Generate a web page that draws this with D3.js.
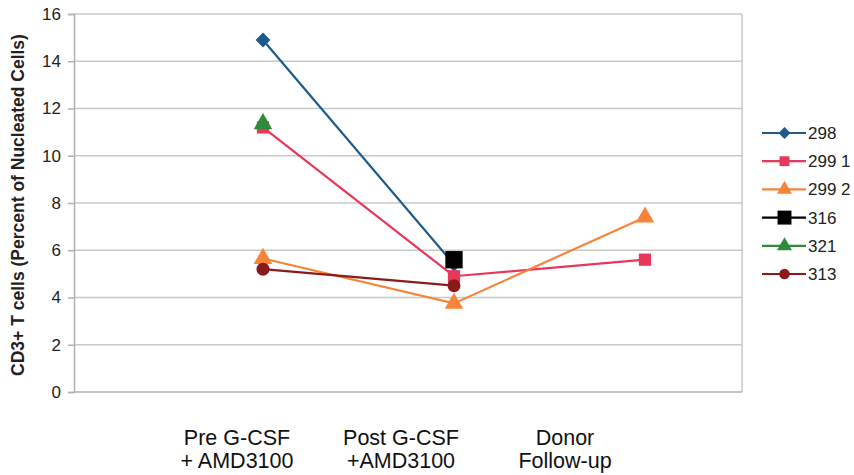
<!DOCTYPE html>
<html><head><meta charset="utf-8">
<script src="https://cdn.jsdelivr.net/npm/d3@7"></script>
<style>body{margin:0;background:#fff}svg{display:block}</style>
</head><body>
<svg id="c" width="854" height="475"></svg>
<script>
const categories = ["Pre G-CSF + AMD3100", "Post G-CSF +AMD3100", "Donor Follow-up"];
const categoryLines = [["Pre G-CSF", "+ AMD3100"], ["Post G-CSF", "+AMD3100"], ["Donor", "Follow-up"]];
const seriesNames = ["298", "299 1", "299 2", "316", "321", "313"];
const s298 = [14.9, 5.4, null];
const s299_1 = [11.2, 4.9, 5.6];
const s299_2 = [5.65, 3.75, 7.4];
const s316 = [null, 5.6, null];
const s321 = [11.35, null, null];
const s313 = [5.2, 4.5, null];
const seriesValues = [s298, s299_1, s299_2, s316, s321, s313];
const yTicks = [0, 2, 4, 6, 8, 10, 12, 14, 16];

const colors = ["#1f5b8a", "#e8375a", "#f7843a", "#000000", "#2e8b3a", "#8b1a1a"];
const shapes = ["diamond", "square", "triangle", "bigsquare", "triangle", "circle"];

const svg = d3.select("#c");
const L = 74, R = 742, T = 14, B = 392;
const FONT = "Liberation Sans, Arial, sans-serif";
const x = d3.scalePoint().domain(categories).range([263, 645]);
const xLab = d3.scalePoint().domain(categories).range([237, 565]);
const y = d3.scaleLinear().domain([0, 16]).range([B, T]);

// gridlines
svg.append("g").selectAll("line").data(yTicks.filter(d => d > 0)).join("line")
  .attr("x1", L).attr("x2", R).attr("y1", d => y(d)).attr("y2", d => y(d))
  .attr("stroke", "#c8c8c8").attr("stroke-width", 1.5);
// right border
svg.append("line").attr("x1", R).attr("x2", R).attr("y1", T).attr("y2", B)
  .attr("stroke", "#c8c8c8").attr("stroke-width", 1.5);

// y axis
const ya = svg.append("g").attr("transform", `translate(${L},0)`)
  .call(d3.axisLeft(y).tickValues(yTicks).tickSize(6).tickPadding(7));
ya.select(".domain").attr("stroke", "#b0b0b0").attr("stroke-width", 1.5);
ya.selectAll(".tick line").attr("stroke", "#b0b0b0").attr("stroke-width", 1.5);
ya.selectAll("text").attr("font-family", FONT)
  .attr("font-size", 17).attr("fill", "#222");
// x baseline
svg.append("line").attr("x1", L).attr("x2", R).attr("y1", B).attr("y2", B)
  .attr("stroke", "#b0b0b0").attr("stroke-width", 1.5);

// y title
svg.append("text").attr("transform", `translate(24,${(T + B) / 2 + 2}) rotate(-90)`)
  .attr("text-anchor", "middle").attr("font-family", FONT)
  .attr("font-size", 17.5).attr("font-weight", "bold").attr("fill", "#222")
  .text("CD3+ T cells (Percent of Nucleated Cells)");

// x labels
categories.forEach((c, i) => {
  const t = svg.append("text").attr("text-anchor", "middle")
    .attr("font-family", FONT).attr("font-size", 21.5).attr("fill", "#111");
  categoryLines[i].forEach((ln, j) => {
    t.append("tspan").attr("x", xLab(c)).attr("y", 445 + j * 23).text(ln);
  });
});

function marker(g, shape, color, cx, cy, k) {
  if (shape === "circle") {
    g.append("circle").attr("cx", cx).attr("cy", cy).attr("r", 6.5 * Math.sqrt(k)).attr("fill", color);
  } else {
    const map = {diamond: [d3.symbolSquare, 110, 45], square: [d3.symbolSquare, 150, 0],
      bigsquare: [d3.symbolSquare, 300, 0], triangle: [d3.symbolTriangle, 150, 0]};
    const [sym, size, rot] = map[shape];
    g.append("path").attr("d", d3.symbol(sym, size * k)())
      .attr("transform", `translate(${cx},${cy}) rotate(${rot})`).attr("fill", color);
  }
}

// series
const line = d3.line().defined(d => d.v != null).x(d => x(d.c)).y(d => y(d.v));
seriesValues.forEach((vals, i) => {
  const pts = vals.map((v, k) => ({c: categories[k], v}));
  const g = svg.append("g");
  g.append("path").attr("d", line(pts)).attr("fill", "none")
    .attr("stroke", colors[i]).attr("stroke-width", 2.2);
  pts.filter(p => p.v != null).forEach(p => marker(g, shapes[i], colors[i], x(p.c), y(p.v), 1));
});

// legend
const legY = d3.scalePoint().domain(seriesNames).range([133, 274]);
seriesNames.forEach((n, i) => {
  const g = svg.append("g");
  const yy = legY(n);
  g.append("line").attr("x1", 762).attr("x2", 806).attr("y1", yy).attr("y2", yy)
    .attr("stroke", colors[i]).attr("stroke-width", 2.2);
  marker(g, shapes[i], colors[i], 784.5, yy, 0.65);
  g.append("text").attr("x", 808).attr("y", yy + 6)
    .attr("font-family", FONT).attr("font-size", 17).attr("fill", "#222").text(n);
});
</script>
</body></html>
